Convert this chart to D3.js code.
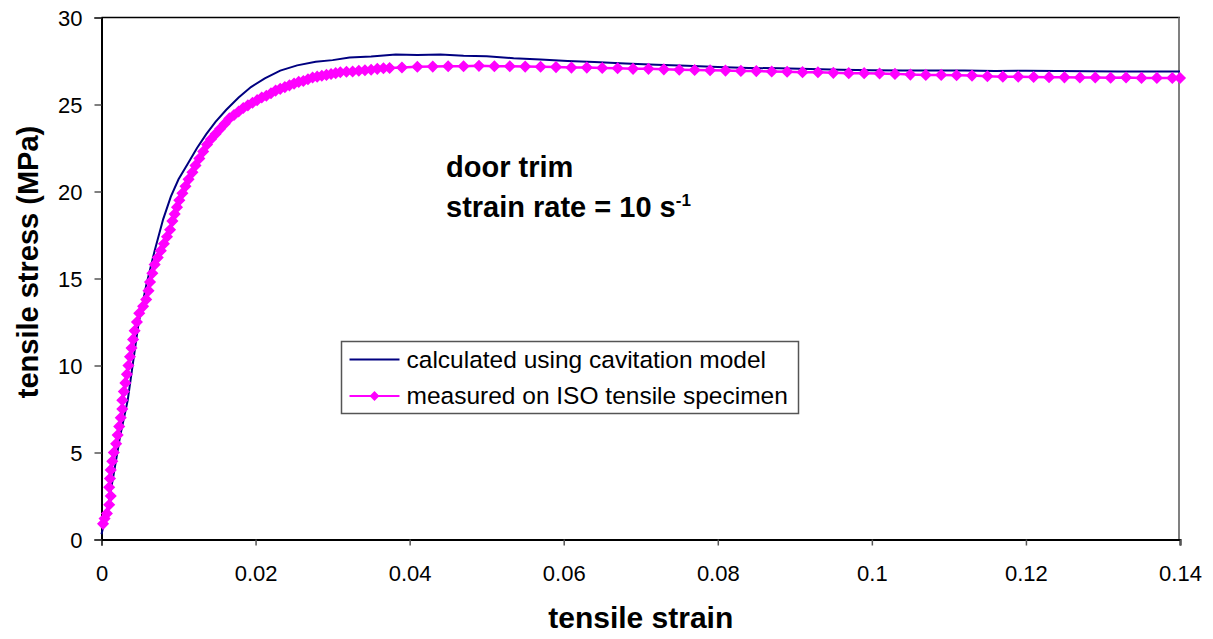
<!DOCTYPE html>
<html>
<head>
<meta charset="utf-8">
<script src="https://cdn.jsdelivr.net/npm/d3@7"></script>
<style>
  body { margin: 0; background: #fff; }
  svg { display: block; font-family: "Liberation Sans", Arial, sans-serif; }
</style>
</head>
<body>
<div id="chart"></div>
<script>
// calculated curve (cavitation model)
const calcStrain = [0, 0.0008, 0.0016, 0.0024, 0.0034, 0.0041, 0.0048, 0.0058, 0.0069, 0.0080,
  0.0090, 0.0100, 0.0112, 0.0124, 0.0136, 0.0148, 0.0162, 0.0178, 0.0194, 0.0212,
  0.0232, 0.0254, 0.0278, 0.0300, 0.0322, 0.0350, 0.0382, 0.0410, 0.0440, 0.0470,
  0.0500, 0.0535, 0.0570, 0.0605, 0.0640, 0.0680, 0.0720, 0.0760, 0.0800, 0.0840,
  0.0880, 0.0920, 0.0960, 0.1000, 0.1040, 0.1080, 0.1120, 0.1160, 0.1200, 0.1240,
  0.1280, 0.1320, 0.1360, 0.1400];
const calcStress = [0.3, 1.8, 3.8, 5.9, 8.0, 10.2, 12.4, 14.6, 16.6, 18.4,
  19.7, 20.7, 21.6, 22.5, 23.3, 24.0, 24.7, 25.4, 26.0, 26.5,
  26.95, 27.25, 27.46, 27.55, 27.7, 27.76, 27.87, 27.84, 27.87, 27.8,
  27.78, 27.66, 27.58, 27.5, 27.44, 27.35, 27.28, 27.22, 27.15, 27.1,
  27.08, 27.04, 27.0, 26.97, 26.96, 26.95, 26.95, 26.93, 26.94, 26.92,
  26.91, 26.9, 26.9, 26.9];

// measured on ISO tensile specimen
const measStrain = [0.0002, 0.0004, 0.0007, 0.0010, 0.0012, 0.0010, 0.0011, 0.0012, 0.0014, 0.0016,
  0.0019, 0.0021, 0.0023, 0.0025, 0.0027, 0.0027, 0.0029, 0.0031, 0.0033, 0.0035,
  0.0037, 0.0039, 0.0041, 0.0043, 0.0046, 0.0049, 0.0054, 0.0058, 0.0061, 0.0063,
  0.0066, 0.0069, 0.0073, 0.0077, 0.0081, 0.0085, 0.0089, 0.0092, 0.0095, 0.0098,
  0.0101, 0.0105, 0.0109, 0.0113, 0.0118, 0.0122, 0.0127, 0.0132, 0.0137, 0.0142,
  0.0148, 0.0154, 0.0160, 0.0166, 0.0172, 0.0178, 0.0184, 0.0190, 0.0196, 0.0202,
  0.0208, 0.0214, 0.0220, 0.0226, 0.0232, 0.0238, 0.0244, 0.0250, 0.0256, 0.0262,
  0.0268, 0.0274, 0.0280, 0.0286, 0.0292, 0.0298, 0.0304, 0.0310, 0.0318, 0.0326,
  0.0334, 0.0342, 0.0350, 0.0358, 0.0366, 0.0374, 0.0390, 0.0410, 0.0430, 0.0450,
  0.0470, 0.0490, 0.0510, 0.0530, 0.0550, 0.0570, 0.0590, 0.0610, 0.0630, 0.0650,
  0.0670, 0.0690, 0.0710, 0.0730, 0.0750, 0.0770, 0.0790, 0.0810, 0.0830, 0.0850,
  0.0870, 0.0890, 0.0910, 0.0930, 0.0950, 0.0970, 0.0990, 0.1010, 0.1030, 0.1050,
  0.1070, 0.1090, 0.1110, 0.1130, 0.1150, 0.1170, 0.1190, 0.1210, 0.1230, 0.1250,
  0.1270, 0.1290, 0.1310, 0.1330, 0.1350, 0.1370, 0.1390, 0.1400];
const measStress = [0.9, 1.2, 1.5, 2.0, 2.5, 3.0, 3.5, 4.0, 4.5, 5.0,
  5.5, 6.0, 6.5, 7.0, 7.5, 8.0, 8.5, 9.0, 9.5, 10.0,
  10.5, 11.0, 11.5, 12.0, 12.5, 13.0, 13.4, 13.8, 14.3, 14.8,
  15.3, 15.8, 16.2, 16.6, 17.0, 17.4, 17.8, 18.3, 18.7, 19.1,
  19.5, 19.9, 20.3, 20.7, 21.1, 21.5, 21.9, 22.3, 22.7, 23.0,
  23.3, 23.6, 23.9, 24.2, 24.4, 24.6, 24.8, 24.95, 25.1, 25.25,
  25.4, 25.5, 25.65, 25.8, 25.9, 26.0, 26.1, 26.2, 26.3, 26.35,
  26.45, 26.55, 26.6, 26.65, 26.7, 26.75, 26.8, 26.85, 26.88, 26.9,
  26.94, 26.97, 27.0, 27.05, 27.08, 27.1, 27.13, 27.17, 27.18, 27.2,
  27.2, 27.22, 27.2, 27.2, 27.18, 27.17, 27.15, 27.12, 27.12, 27.1,
  27.08, 27.05, 27.05, 27.02, 27.0, 26.98, 26.97, 26.95, 26.93, 26.92,
  26.9, 26.88, 26.86, 26.85, 26.82, 26.8, 26.8, 26.78, 26.76, 26.72,
  26.7, 26.7, 26.68, 26.66, 26.62, 26.6, 26.6, 26.58, 26.57, 26.56,
  26.55, 26.55, 26.54, 26.55, 26.53, 26.53, 26.52, 26.52];

const xTicks = [0, 0.02, 0.04, 0.06, 0.08, 0.1, 0.12, 0.14];
const yTicks = [0, 5, 10, 15, 20, 25, 30];
const seriesNames = ["calculated using cavitation model", "measured on ISO tensile specimen"];

const width = 1213;
const height = 639;
const margin = { top: 17.5, right: 33, bottom: 99.5, left: 101.5 };
const innerWidth = width - margin.left - margin.right;
const innerHeight = height - margin.top - margin.bottom;

const svg = d3.select("#chart")
  .append("svg")
  .attr("width", width)
  .attr("height", height);

const g = svg.append("g")
  .attr("transform", "translate(" + margin.left + "," + margin.top + ")");

const x = d3.scaleLinear().domain([0, 0.14]).range([0, innerWidth]);
const y = d3.scaleLinear().domain([0, 30]).range([innerHeight, 0]);

// plot area frame: top black, right gray
g.append("line")
  .attr("x1", 0).attr("x2", innerWidth)
  .attr("y1", 0).attr("y2", 0)
  .attr("stroke", "#000").attr("stroke-width", 1.5);
g.append("line")
  .attr("x1", innerWidth - 1).attr("x2", innerWidth - 1)
  .attr("y1", 0).attr("y2", innerHeight)
  .attr("stroke", "#808080").attr("stroke-width", 2);

// axes
const xAxis = g.append("g")
  .attr("transform", "translate(0," + innerHeight + ")")
  .call(d3.axisBottom(x).tickValues(xTicks).tickSize(6).tickPadding(20)
    .tickFormat((d) => String(d)));
const yAxis = g.append("g")
  .call(d3.axisLeft(y).tickValues(yTicks).tickSize(7).tickPadding(12));

[xAxis, yAxis].forEach((a) => {
  a.select(".domain").attr("stroke", "#000").attr("stroke-width", 2);
  a.selectAll(".tick line").attr("stroke", "#555").attr("stroke-width", 1.5);
  a.selectAll("text")
    .attr("fill", "#000")
    .style("font-size", "22px")
    .style("font-family", "'Liberation Sans', Arial, sans-serif");
});
yAxis.selectAll("text").attr("dy", "0.36em");

// series
const calcData = calcStrain.map((s, i) => [s, calcStress[i]]);
const measData = measStrain.map((s, i) => [s, measStress[i]]);

const line = d3.line()
  .x((d) => x(d[0]))
  .y((d) => y(d[1]));

g.append("path")
  .datum(calcData)
  .attr("fill", "none")
  .attr("stroke", "#000080")
  .attr("stroke-width", 2)
  .attr("d", line);

g.append("path")
  .datum(measData)
  .attr("fill", "none")
  .attr("stroke", "#ff00ff")
  .attr("stroke-width", 2.5)
  .attr("d", line);

const diamond = d3.symbol().type(d3.symbolSquare).size(50);

g.selectAll(".marker")
  .data(measData)
  .enter()
  .append("path")
  .attr("class", "marker")
  .attr("d", diamond)
  .attr("transform", (d) => "translate(" + x(d[0]) + "," + y(d[1]) + ") rotate(45)")
  .attr("fill", "#ff00ff")
  .attr("stroke", "#ff00ff")
  .attr("stroke-width", 1.5);

// annotation
const note = svg.append("text")
  .attr("x", 446)
  .attr("y", 177)
  .style("font-size", "29px")
  .style("font-weight", "bold");
note.append("tspan").text("door trim");

const rate = svg.append("text")
  .attr("x", 446)
  .attr("y", 217)
  .style("font-size", "29px")
  .style("font-weight", "bold");
rate.append("tspan").text("strain rate = 10 s");
rate.append("tspan")
  .attr("dy", -11)
  .style("font-size", "17px")
  .text("-1");

// legend
const legend = svg.append("g")
  .attr("transform", "translate(341.5,341.5)");

legend.append("rect")
  .attr("width", 457)
  .attr("height", 72)
  .attr("fill", "#fff")
  .attr("stroke", "#555")
  .attr("stroke-width", 1.5);

const legendColors = ["#000080", "#ff00ff"];

seriesNames.forEach((name, i) => {
  const ly = 18 + i * 36.5;
  legend.append("line")
    .attr("x1", 8).attr("x2", 58)
    .attr("y1", ly).attr("y2", ly)
    .attr("stroke", legendColors[i])
    .attr("stroke-width", 2);
  if (i === 1) {
    legend.append("path")
      .attr("d", d3.symbol().type(d3.symbolSquare).size(30))
      .attr("transform", "translate(33," + ly + ") rotate(45)")
      .attr("fill", "#ff00ff")
      .attr("stroke", "#ff00ff")
      .attr("stroke-width", 1.5);
  }
  legend.append("text")
    .attr("x", 65)
    .attr("y", ly + 8)
    .style("font-size", "24.5px")
    .text(name);
});

// axis titles
svg.append("text")
  .attr("x", margin.left + innerWidth / 2)
  .attr("y", 628)
  .attr("text-anchor", "middle")
  .style("font-size", "30px")
  .style("font-weight", "bold")
  .text("tensile strain");

svg.append("text")
  .attr("transform", "translate(38,262) rotate(-90)")
  .attr("text-anchor", "middle")
  .style("font-size", "29px")
  .style("font-weight", "bold")
  .text("tensile stress (MPa)");
</script>
</body>
</html>
